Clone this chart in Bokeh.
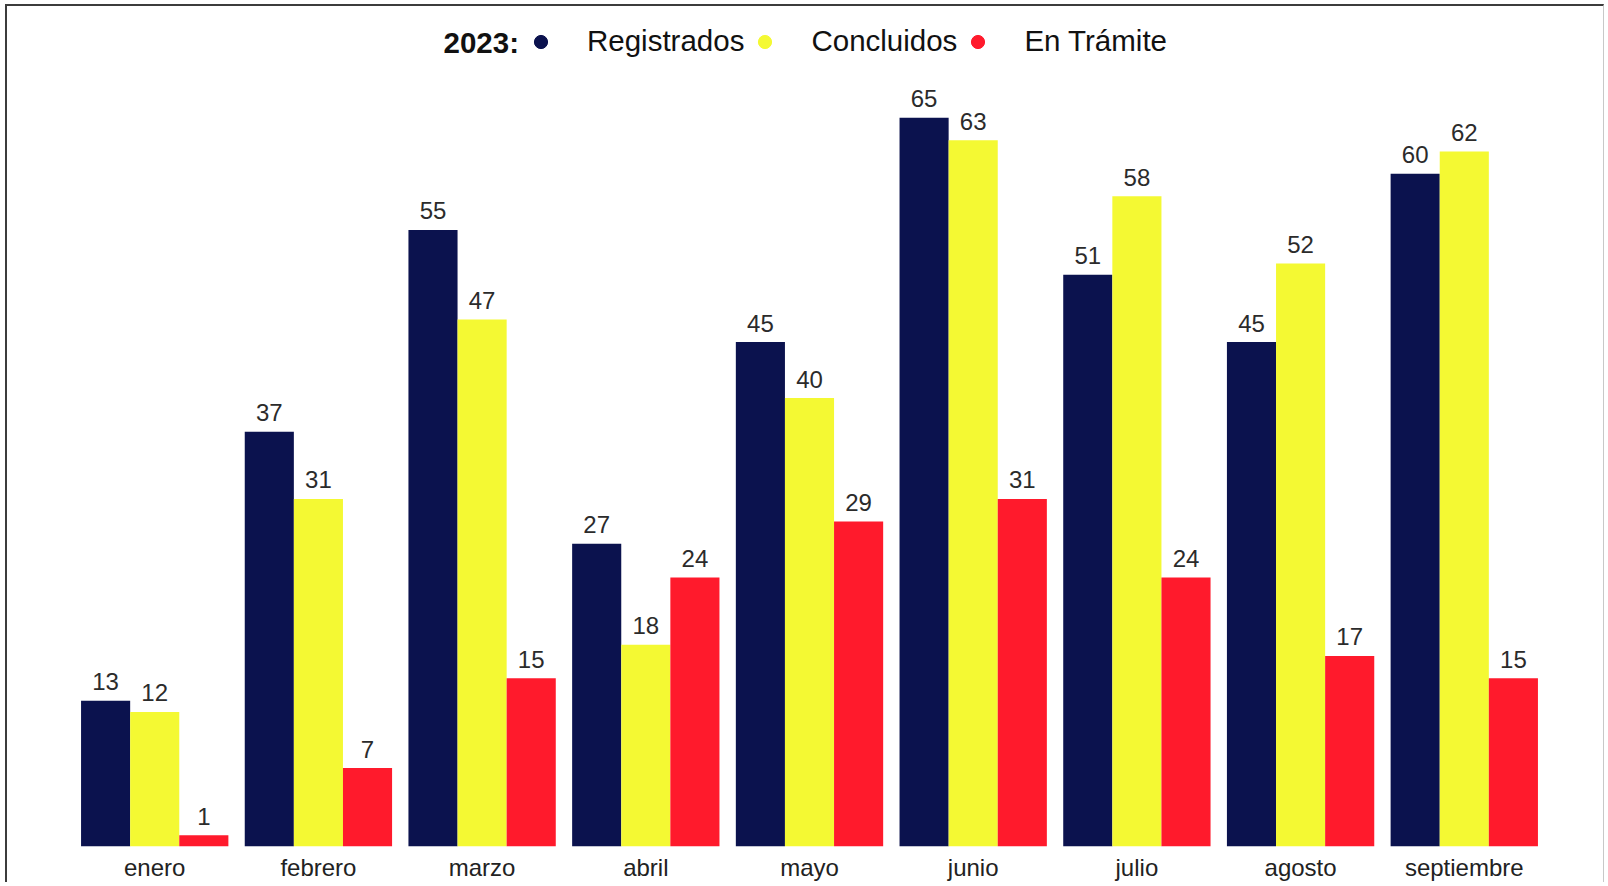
from bokeh.plotting import figure
from bokeh.models import ColumnDataSource, FactorRange, Range1d, Legend, LegendItem, Label
from bokeh.transform import dodge
from bokeh.core.properties import value
from bokeh.embed import file_html
from bokeh.resources import INLINE

year_label = "2023:"
months = ["enero", "febrero", "marzo", "abril", "mayo", "junio", "julio", "agosto", "septiembre"]
series = ["Registrados", "Concluidos", "En Trámite"]
registrados = [13, 37, 55, 27, 45, 65, 51, 45, 60]
concluidos = [12, 31, 47, 18, 40, 63, 58, 52, 62]
en_tramite = [1, 7, 15, 24, 29, 31, 24, 17, 15]
colors = ["#0B124E", "#F4F933", "#FF1A2C"]
offsets = [-0.3, 0.0, 0.3]

FONT = "Liberation Sans"
W, H = 1599, 878

p = figure(
    x_range=FactorRange(*months, range_padding=0.1, range_padding_units="absolute"),
    y_range=Range1d(0, 74.93),
    width=W, height=H,
    output_backend="svg", toolbar_location=None,
    min_border_left=49, min_border_right=44, min_border_top=0, min_border_bottom=38,
)
p.styles = {
    "margin-left": "5px",
    "margin-top": "4px",
    "border-left": "2px solid #3c3c3c",
    "border-top": "2px solid #3c3c3c",
    "border-right": "1px solid #c8c8c8",
}

legend_items = []
for name, vals, col, off in zip(series, [registrados, concluidos, en_tramite], colors, offsets):
    src = ColumnDataSource(dict(month=months, v=vals, lbl=[str(v) for v in vals]))
    p.vbar(x=dodge("month", off, range=p.x_range), top="v", width=0.3, source=src,
           fill_color=col, line_color=None)
    p.text(x=dodge("month", off, range=p.x_range), y="v", text="lbl", source=src,
           text_align="center", text_baseline="alphabetic", y_offset=-19,
           text_font=value(FONT), text_font_size="24px", text_color="#2b2b2b")
    proxy = p.scatter(x=[months[0]], y=[float("nan")], marker="circle", size=13,
                      fill_color=col, line_color=col)
    legend_items.append(LegendItem(label=name, renderers=[proxy]))

legend = Legend(
    items=legend_items, location=(468, 788), orientation="horizontal",
    glyph_width=33, glyph_height=33, label_standoff=30, spacing=4,
    padding=0, margin=0, border_line_color=None, background_fill_alpha=0,
    label_text_font=FONT, label_text_font_size="29.5px", label_text_color="#111111",
)
p.add_layout(legend)

p.add_layout(Label(x=387, y=804, x_units="screen", y_units="screen", text=year_label,
                   text_font=FONT, text_font_style="bold", text_font_size="29.5px",
                   text_baseline="middle", text_color="#111111"))

p.yaxis.visible = False
p.xaxis.axis_line_color = None
p.xaxis.major_tick_line_color = None
p.xaxis.minor_tick_line_color = None
p.xaxis.major_tick_out = 0
p.xaxis.major_label_standoff = 7
p.xaxis.major_label_text_font = FONT
p.xaxis.major_label_text_font_size = "24px"
p.xaxis.major_label_text_color = "#222222"
p.xgrid.visible = False
p.ygrid.visible = False
p.outline_line_color = None

open("out.html", "w").write(file_html(p, INLINE))
